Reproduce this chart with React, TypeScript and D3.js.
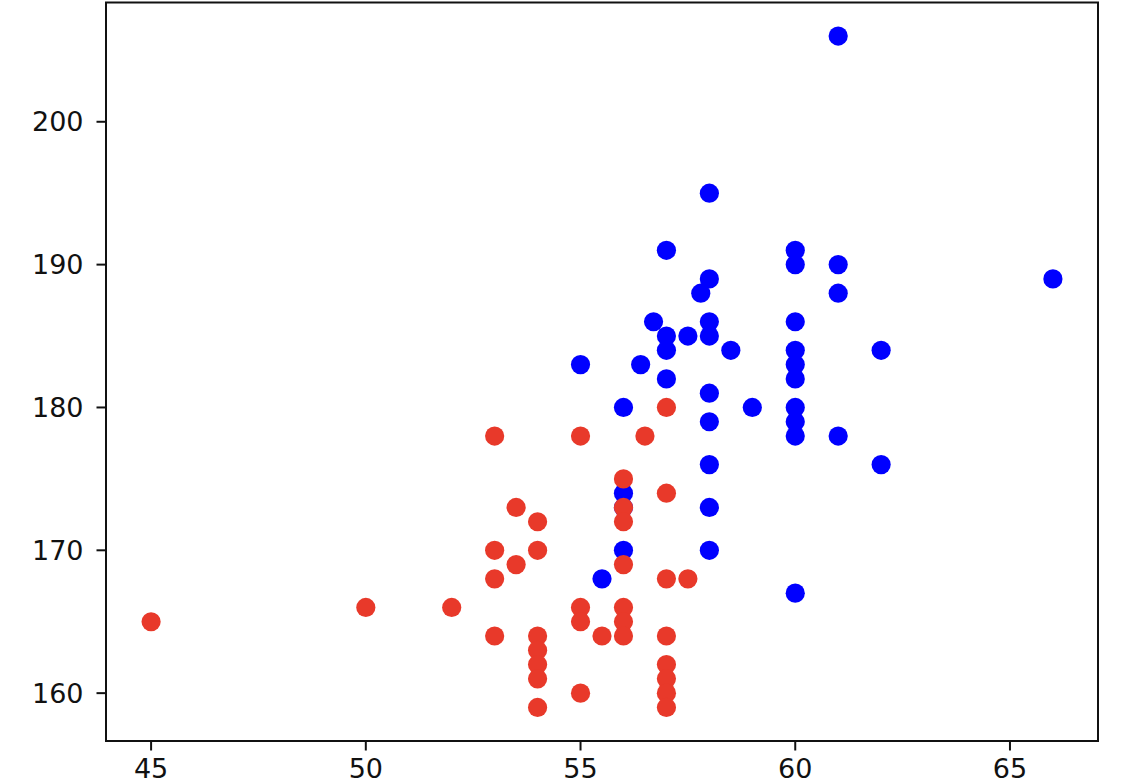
import React from "react";
import * as d3 from "d3";

// Red group (x, y)
const redX = [45, 50, 52, 53, 53, 53, 53, 53.5, 53.5, 54, 54, 54, 54, 54, 54, 54, 55, 55, 55, 55, 55.5, 56, 56, 56, 56, 56, 56, 56, 56.5, 57, 57, 57, 57, 57, 57, 57, 57, 57.5];
const redY = [165, 166, 166, 178, 170, 168, 164, 173, 169, 172, 170, 164, 163, 162, 161, 159, 178, 166, 165, 160, 164, 175, 173, 172, 169, 166, 165, 164, 178, 180, 174, 168, 164, 162, 161, 160, 159, 168];

// Blue group (x, y)
const blueX = [55, 55.5, 56, 56, 56, 56, 56.4, 56.7, 57, 57, 57, 57, 57.5, 57.8, 58, 58, 58, 58, 58, 58, 58, 58, 58, 58.5, 59, 60, 60, 60, 60, 60, 60, 60, 60, 60, 60, 61, 61, 61, 61, 62, 62, 66];
const blueY = [183, 168, 180, 174, 173, 170, 183, 186, 191, 185, 184, 182, 185, 188, 195, 189, 186, 185, 181, 179, 176, 173, 170, 184, 180, 191, 190, 186, 184, 183, 182, 180, 179, 178, 167, 206, 190, 188, 178, 184, 176, 189];

const xTicks = [45, 50, 55, 60, 65];
const yTicks = [160, 170, 180, 190, 200];

const W = 1124;
const H = 784;
const left = 106;
const right = 1098;
const top = 2.5;
const bottom = 741;

export default function App() {
  const allX = [...redX, ...blueX];
  const allY = [...redY, ...blueY];
  const [x0, x1] = d3.extent(allX) as [number, number];
  const [y0, y1] = d3.extent(allY) as [number, number];
  const mx = (x1 - x0) * 0.05;
  const my = (y1 - y0) * 0.05;
  const x = d3.scaleLinear().domain([x0 - mx, x1 + mx]).range([left, right]);
  const y = d3.scaleLinear().domain([y0 - my, y1 + my]).range([bottom, top]);

  const r = 9.6;
  const font = "'DejaVu Sans', sans-serif";
  const fs = 27;
  const tickLen = 9.5;

  return (
    <div style={{ position: "absolute", left: 0, top: 0 }}>
      <svg width={W} height={H} style={{ display: "block", background: "#fff" }}>
        <g>
          {blueX.map((v, i) => (
            <circle key={"b" + i} cx={x(v)} cy={y(blueY[i])} r={r} fill="#0000ff" />
          ))}
          {redX.map((v, i) => (
            <circle key={"r" + i} cx={x(v)} cy={y(redY[i])} r={r} fill="#e8392a" />
          ))}
        </g>
        <rect x={left} y={top} width={right - left} height={bottom - top} fill="none" stroke="#111" strokeWidth={2} />
        {xTicks.map((t) => (
          <g key={"xt" + t}>
            <line x1={x(t)} x2={x(t)} y1={bottom} y2={bottom + tickLen} stroke="#111" strokeWidth={2} />
            <text x={x(t)} y={777.5} textAnchor="middle" fontFamily={font} fontSize={fs} fill="#111">
              {t}
            </text>
          </g>
        ))}
        {yTicks.map((t) => (
          <g key={"yt" + t}>
            <line x1={left - tickLen} x2={left} y1={y(t)} y2={y(t)} stroke="#111" strokeWidth={2} />
            <text x={83.5} y={y(t)} dy="0.36em" textAnchor="end" fontFamily={font} fontSize={fs} fill="#111">
              {t}
            </text>
          </g>
        ))}
      </svg>
    </div>
  );
}
